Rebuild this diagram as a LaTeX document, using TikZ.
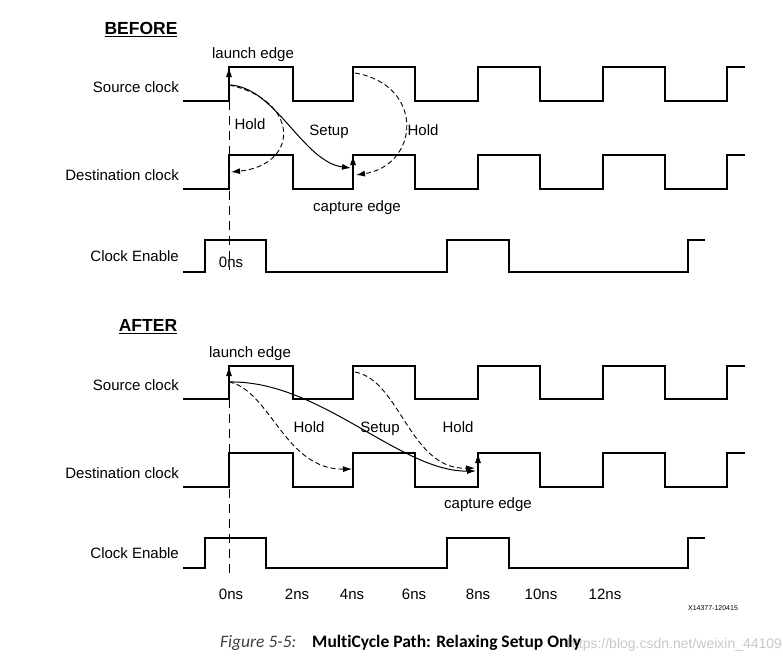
\documentclass[tikz,border=0pt]{standalone}
\usepackage{fontspec}
\setmainfont{Liberation Sans}
\newfontfamily\capfont[Ligatures=NoCommon]{Carlito}
\usetikzlibrary{arrows.meta}
\definecolor{capgray}{RGB}{64,64,64}
\definecolor{wmgray}{RGB}{200,200,200}
\newcommand{\clkwave}[2]{%
  \draw[wave] (183,#1) -- (229,#1) -- (229,#2) -- (293,#2) -- (293,#1) -- (353,#1) -- (353,#2) -- (415,#2) -- (415,#1) -- (478,#1) -- (478,#2) -- (540,#2) -- (540,#1) -- (603,#1) -- (603,#2) -- (665,#2) -- (665,#1) -- (727,#1) -- (727,#2) -- (745,#2);}
\newcommand{\enwave}[2]{%
  \draw[wave] (183,#1) -- (205,#1) -- (205,#2) -- (266,#2) -- (266,#1) -- (447,#1) -- (447,#2) -- (509,#2) -- (509,#1) -- (688,#1) -- (688,#2) -- (705,#2);}
\begin{document}
\begin{tikzpicture}[x=1pt,y=-1pt,
  wave/.style={line width=1.4pt,line join=miter},
  lbl/.style={font=\fontsize{15}{18}\selectfont,inner sep=0pt,text height=10.8pt,text depth=0pt},
  sig/.style={lbl,anchor=east},
  ttl/.style={font=\fontsize{17.5}{20}\selectfont\bfseries,inner sep=0pt,text height=12.6pt,text depth=0pt},
  edgearrow/.style={line width=1pt,-{Latex[length=10pt,width=6pt]}},
  setuparrow/.style={line width=1pt,-{Latex[length=9pt,width=6pt]}},
  holdarrow/.style={line width=0.9pt,dash pattern=on 5pt off 3pt,-{Latex[length=9pt,width=6pt]}},
  zeroline/.style={line width=0.9pt,dash pattern=on 9pt off 6pt}]
\fill[white] (0,0) rectangle (783,656);
\useasboundingbox (0,0) rectangle (783,656);

% ---------------- BEFORE ----------------
\node[ttl] (tb) at (141,28) {\underline{BEFORE}};
\node[sig] (sb) at (179,87) {Source clock};
\node[sig] (db) at (179,175) {Destination clock};
\node[sig] (eb) at (179,256) {Clock Enable};
\clkwave{101}{67}
\clkwave{189}{155}
\enwave{272}{240}
\node[lbl] (leb) at (253,53) {launch edge};
\node[lbl] (ceb) at (357,206) {capture edge};
\node[lbl] (hb1) at (250,124) {Hold};
\node[lbl] (sub) at (329,130) {Setup};
\node[lbl] (hb2) at (423,130) {Hold};
\node[lbl] (zb) at (231,262) {0ns};
\coordinate (b0) at (229,101);
\coordinate (b1) at (229,67);
\coordinate (b2) at (229,270);
\coordinate (bs) at (229,85);
\coordinate (bse) at (351,168);
\coordinate (bc0) at (353,186);
\coordinate (bc1) at (353,155);
\coordinate (bh1) at (231,172);
\coordinate (bh2s) at (355,73);
\coordinate (bh2e) at (356,175);
\draw[zeroline] (b0) -- (b2);
\draw[edgearrow] (b0) -- (b1);
\draw[edgearrow] (bc0) -- (bc1);
\draw[setuparrow] (bs) .. controls (275,86) and (303,162) .. (bse);
\draw[holdarrow] (bs) .. controls (300,100) and (300,165) .. (bh1);
\draw[holdarrow] (bh2s) .. controls (425,85) and (420,165) .. (bh2e);

% ---------------- AFTER ----------------
\node[ttl] (ta) at (148,325) {\underline{AFTER}};
\node[sig] (sa) at (179,385) {Source clock};
\node[sig] (da) at (179,473) {Destination clock};
\node[sig] (ea) at (179,553) {Clock Enable};
\clkwave{399}{366}
\clkwave{487}{453}
\enwave{568}{538}
\node[lbl] (lea) at (250,352) {launch edge};
\node[lbl] (cea) at (488,503) {capture edge};
\node[lbl] (ha1) at (309,427) {Hold};
\node[lbl] (sua) at (380,427) {Setup};
\node[lbl] (ha2) at (458,427) {Hold};
\coordinate (a0) at (229,399);
\coordinate (a1) at (229,366);
\coordinate (a2) at (229,576);
\coordinate (as) at (229,382);
\coordinate (ase) at (476,471);
\coordinate (ac0) at (478,485);
\coordinate (ac1) at (478,453);
\coordinate (ah1) at (352,469);
\coordinate (ah2s) at (355,372);
\coordinate (ah2e) at (475,468);
\draw[zeroline] (a0) -- (a2);
\draw[edgearrow] (a0) -- (a1);
\draw[edgearrow] (ac0) -- (ac1);
\draw[setuparrow] (as) .. controls (320,380) and (400,472) .. (ase);
\draw[holdarrow] (as) .. controls (270,390) and (285,470) .. (ah1);
\draw[holdarrow] (ah2s) .. controls (400,380) and (410,470) .. (ah2e);

% time axis
\node[lbl] (t0) at (231,594) {0ns};
\node[lbl] (t2) at (297,594) {2ns};
\node[lbl] (t4) at (352,594) {4ns};
\node[lbl] (t6) at (414,594) {6ns};
\node[lbl] (t8) at (478,594) {8ns};
\node[lbl] (t10) at (541,594) {10ns};
\node[lbl] (t12) at (605,594) {12ns};
\node[inner sep=0pt,font=\fontsize{7}{8}\selectfont] (xid) at (713,608) {X14377-120415};

% caption
\node[inner sep=0pt,anchor=west,text=wmgray,font=\fontsize{14}{16}\selectfont] (wm) at (567,645) {https://blog.csdn.net/weixin\_44109};
\node[inner sep=0pt,anchor=west,text=capgray,font=\capfont\fontsize{17.5}{20}\selectfont\itshape] (cf) at (220,643) {Figure 5-5:};
\node[inner sep=0pt,anchor=west,font=\capfont\fontsize{17.5}{20}\selectfont\bfseries] (ct) at (312,643) {MultiCycle Path: Relaxing Setup Only};
\end{tikzpicture}
\end{document}
